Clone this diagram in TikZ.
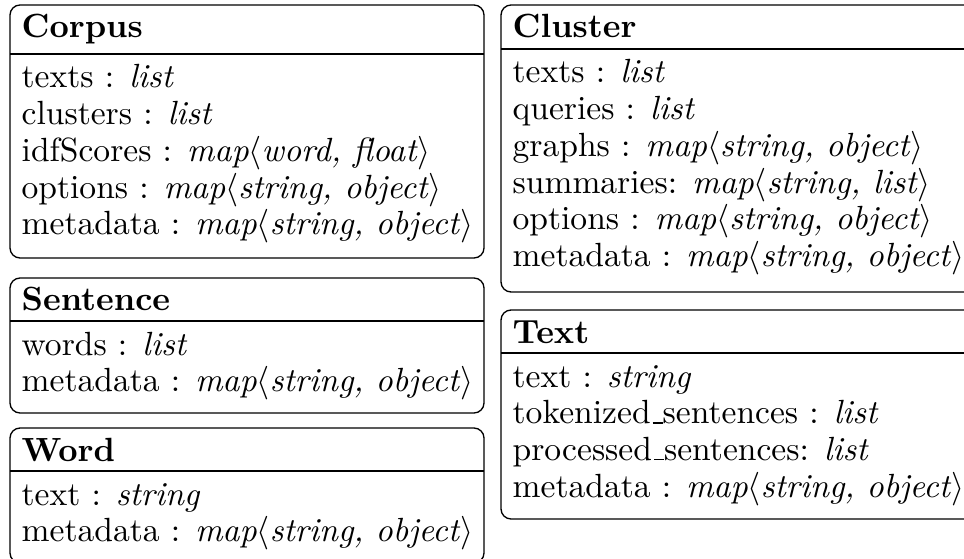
\documentclass[tikz,border=0pt]{standalone}
\begin{document}
\begin{tikzpicture}[x=0.298pt, y=-0.298pt,
  classbox/.style={draw, line width=0.4pt, rounded corners=3pt},
  divider/.style={draw, line width=0.4pt},
  title/.style={anchor=base west, inner sep=0pt, font=\bfseries},
  field/.style={anchor=base west, inner sep=0pt}]
\newcommand{\ty}[1]{\textit{#1}}
\newcommand{\tmap}[1]{\textit{map}$\langle$\textit{#1}$\rangle$}
% low rule used as the underscore in field names
\newcommand{\us}{\kern.06em\vbox{\hrule width.3em}}
\clip (0,0) rectangle (964,559);

% Corpus
\draw[classbox] (10,5) rectangle (484,258);
\draw[divider] (10,54) -- (484,54);
\node[title] (corpus) at (21,38) {Corpus};
\node[field] (corpus-texts) at (21,88) {texts : \ty{list}};
\node[field] (corpus-clusters) at (21,124.7) {clusters : \ty{list}};
\node[field] (corpus-idf) at (21,161.4) {idfScores : \tmap{word, float}};
\node[field] (corpus-options) at (21,198.1) {options : \tmap{string, object}};
\node[field] (corpus-meta) at (21,234.8) {metadata : \tmap{string, object}};

% Cluster
\draw[classbox] (501,5) rectangle (990,292);
\draw[divider] (501,49) -- (990,49);
\node[title] (cluster) at (512,38) {Cluster};
\node[field] (cluster-texts) at (512,83) {texts : \ty{list}};
\node[field] (cluster-queries) at (512,119.7) {queries : \ty{list}};
\node[field] (cluster-graphs) at (512,156.4) {graphs : \tmap{string, object}};
\node[field] (cluster-summaries) at (512,193.1) {summaries: \tmap{string, list}};
\node[field] (cluster-options) at (512,229.8) {options : \tmap{string, object}};
\node[field] (cluster-meta) at (512,266.5) {metadata : \tmap{string, object}};

% Sentence
\draw[classbox] (10,278) rectangle (484,413);
\draw[divider] (10,321) -- (484,321);
\node[title] (sentence) at (21,311) {Sentence};
\node[field] (sentence-words) at (21,355) {words : \ty{list}};
\node[field] (sentence-meta) at (21,391.7) {metadata : \tmap{string, object}};

% Word
\draw[classbox] (10,428) rectangle (484,563);
\draw[divider] (10,471) -- (484,471);
\node[title] (word) at (21,461) {Word};
\node[field] (word-text) at (21,505) {text : \ty{string}};
\node[field] (word-meta) at (21,541.7) {metadata : \tmap{string, object}};

% Text
\draw[classbox] (501,310) rectangle (990,519);
\draw[divider] (501,353) -- (990,353);
\node[title] (text) at (512,343) {Text};
\node[field] (text-text) at (512,387) {text : \ty{string}};
\node[field] (text-tok) at (512,423.7) {tokenized\us sentences : \ty{list}};
\node[field] (text-proc) at (512,460.4) {processed\us sentences: \ty{list}};
\node[field] (text-meta) at (512,497.1) {metadata : \tmap{string, object}};
\end{tikzpicture}
\end{document}
